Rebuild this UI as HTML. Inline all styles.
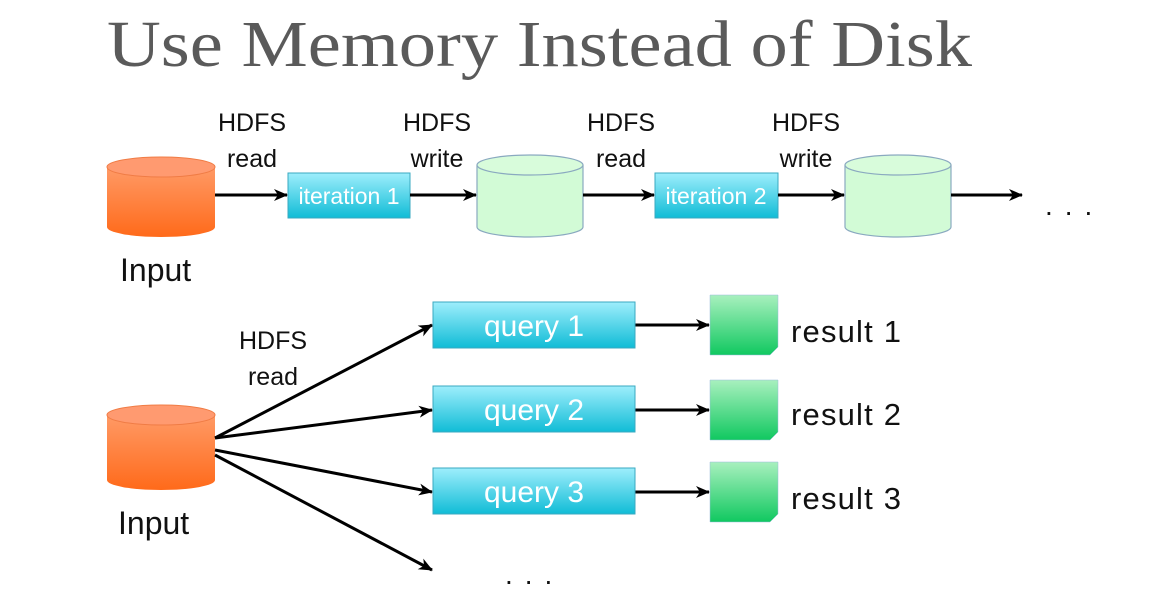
<!DOCTYPE html>
<html><head><style>body{margin:0;background:#fff}svg{display:block}</style></head><body>
<svg width="1170" height="600" viewBox="0 0 1170 600" xmlns="http://www.w3.org/2000/svg" font-family="Liberation Sans, sans-serif">
<defs>
<linearGradient id="or" x1="0" y1="0" x2="0" y2="1"><stop offset="0" stop-color="#ff9a66"/><stop offset="1" stop-color="#ff6a1a"/></linearGradient>
<linearGradient id="bl" x1="0" y1="0" x2="0" y2="1"><stop offset="0" stop-color="#9eeefc"/><stop offset="1" stop-color="#10bcd6"/></linearGradient>
<linearGradient id="gr" x1="0" y1="0" x2="0" y2="1"><stop offset="0" stop-color="#a8f0be"/><stop offset="1" stop-color="#10c860"/></linearGradient>
<marker id="ah" markerWidth="14" markerHeight="14" refX="13" refY="7" orient="auto" markerUnits="userSpaceOnUse"><path d="M0,1 L14,7 L0,13 L4,7 Z" fill="#000"/></marker>
</defs>
<text x="107" y="66" font-family="Liberation Serif, serif" font-size="66" fill="#5a5a5a" textLength="865" lengthAdjust="spacingAndGlyphs">Use Memory Instead of Disk</text>

<g font-size="25" text-anchor="middle" fill="#111">
<text x="252" y="131">HDFS</text><text x="252" y="167">read</text>
<text x="437" y="131">HDFS</text><text x="437" y="167">write</text>
<text x="621" y="131">HDFS</text><text x="621" y="167">read</text>
<text x="806" y="131">HDFS</text><text x="806" y="167">write</text>
</g>
<path d="M107,167 L107,227 A54,10 0 0 0 215,227 L215,167 Z" fill="url(#or)"/>
<ellipse cx="161" cy="167" rx="54" ry="10" fill="#ff9a70" stroke="#f07c45"/>
<g stroke="#8aa9c0" stroke-width="1.2">
<path d="M477,165 L477,227 A53,10 0 0 0 583,227 L583,165" fill="#d2fbd6"/>
<ellipse cx="530" cy="165" rx="53" ry="10" fill="#d8fcdb"/>
<path d="M845,165 L845,227 A53,10 0 0 0 951,227 L951,165" fill="#d2fbd6"/>
<ellipse cx="898" cy="165" rx="53" ry="10" fill="#d8fcdb"/>
</g>
<rect x="288" y="173" width="122" height="45" fill="url(#bl)" stroke="#3aa9c0"/>
<rect x="655" y="173" width="123" height="45" fill="url(#bl)" stroke="#3aa9c0"/>
<g font-size="23" fill="#fff" text-anchor="middle"><text x="349" y="204">iteration 1</text><text x="716" y="204">iteration 2</text></g>
<g stroke="#000" stroke-width="3" marker-end="url(#ah)">
<line x1="215" y1="195" x2="287" y2="195"/><line x1="410" y1="195" x2="476" y2="195"/>
<line x1="583" y1="195" x2="654" y2="195"/><line x1="778" y1="195" x2="844" y2="195"/>
<line x1="951" y1="195" x2="1022" y2="195"/>
</g>
<text x="1045" y="215" font-size="28" fill="#111" letter-spacing="12">...</text>
<text x="120" y="281" font-size="32" fill="#111">Input</text>

<g font-size="25" text-anchor="middle" fill="#111"><text x="273" y="349">HDFS</text><text x="273" y="385">read</text></g>
<path d="M107,415 L107,480 A54,10 0 0 0 215,480 L215,415 Z" fill="url(#or)"/>
<ellipse cx="161" cy="415" rx="54" ry="10" fill="#ff9a70" stroke="#f07c45"/>
<text x="118" y="534" font-size="32" fill="#111">Input</text>
<g stroke="#000" stroke-width="3" marker-end="url(#ah)">
<line x1="215" y1="438" x2="432" y2="325"/><line x1="215" y1="438" x2="432" y2="410"/>
<line x1="215" y1="450" x2="432" y2="492"/><line x1="215" y1="455" x2="432" y2="570"/>
<line x1="635" y1="325" x2="709" y2="325"/><line x1="635" y1="410" x2="709" y2="410"/>
<line x1="635" y1="492" x2="709" y2="492"/>
</g>
<g fill="url(#bl)" stroke="#3aa9c0">
<rect x="433" y="302" width="202" height="46"/><rect x="433" y="386" width="202" height="46"/><rect x="433" y="468" width="202" height="46"/>
</g>
<g font-size="30" fill="#fff" text-anchor="middle"><text x="534" y="336">query 1</text><text x="534" y="420">query 2</text><text x="534" y="502">query 3</text></g>
<g fill="url(#gr)" stroke="#9bd" stroke-width="0.5">
<path d="M710,295 H778 V347 L770,355 H710 Z"/><path d="M710,380 H778 V432 L770,440 H710 Z"/><path d="M710,462 H778 V514 L770,522 H710 Z"/>
</g>
<g font-size="31" fill="#111"><text x="791" y="342" textLength="110">result 1</text><text x="791" y="425" textLength="110">result 2</text><text x="791" y="509" textLength="110">result 3</text></g>
<text x="505" y="584" font-size="28" fill="#111" letter-spacing="12">...</text>
</svg>
</body></html>
